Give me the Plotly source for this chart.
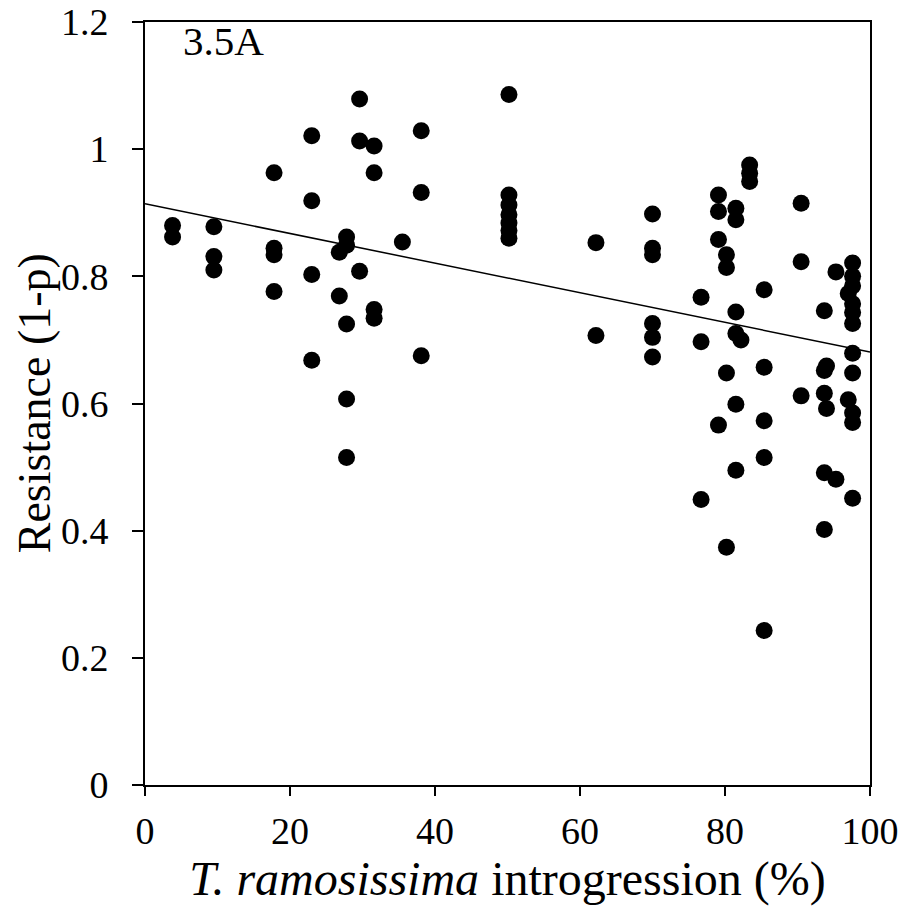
import plotly.graph_objects as go

# T. ramosissima introgression (%) and resistance (1-p)
introgression = [
    3.8, 3.8,
    9.5, 9.5, 9.5,
    17.8, 17.8, 17.8, 17.8,
    23.0, 23.0, 23.0, 23.0,
    26.8, 26.8,
    27.8, 27.8, 27.8, 27.8, 27.8,
    29.6, 29.6, 29.6,
    31.6, 31.6, 31.6, 31.6,
    35.5,
    38.1, 38.1, 38.1,
    50.2, 50.2, 50.2, 50.2, 50.2, 50.2, 50.2,
    62.2, 62.2,
    70.0, 70.0, 70.0, 70.0, 70.0, 70.0,
    76.7, 76.7, 76.7,
    79.1, 79.1, 79.1, 79.1,
    80.2, 80.2, 80.2, 80.2,
    81.5, 81.5, 81.5, 81.5, 81.5, 81.5,
    82.2,
    83.4, 83.4, 83.4,
    85.4, 85.4, 85.4, 85.4, 85.4,
    90.5, 90.5, 90.5,
    93.7, 93.7, 93.7, 93.7, 93.7,
    94.0, 94.0,
    95.3, 95.3,
    97.0, 97.0,
    97.6, 97.6, 97.6, 97.6, 97.6, 97.6, 97.6, 97.6, 97.6, 97.6, 97.6,
]
resistance = [
    0.880, 0.862,
    0.878, 0.831, 0.810,
    0.963, 0.844, 0.834, 0.776,
    1.021, 0.919, 0.803, 0.668,
    0.838, 0.769,
    0.862, 0.849, 0.725, 0.607, 0.515,
    1.079, 1.013, 0.808,
    1.005, 0.963, 0.748, 0.734,
    0.854,
    1.029, 0.932, 0.675,
    1.086, 0.928, 0.912, 0.897, 0.884, 0.872, 0.860,
    0.853, 0.707,
    0.898, 0.844, 0.834, 0.726, 0.704, 0.673,
    0.767, 0.697, 0.449,
    0.928, 0.902, 0.858, 0.566,
    0.834, 0.814, 0.648, 0.374,
    0.907, 0.889, 0.744, 0.710, 0.599, 0.495,
    0.700,
    0.975, 0.962, 0.949,
    0.779, 0.657, 0.573, 0.515, 0.243,
    0.915, 0.823, 0.612,
    0.746, 0.652, 0.616, 0.491, 0.402,
    0.659, 0.592,
    0.807, 0.481,
    0.773, 0.606,
    0.821, 0.800, 0.785, 0.757, 0.743, 0.726, 0.679, 0.648, 0.585, 0.570, 0.451,
]

# Linear trend line
trend_x = [0, 100]
trend_intercept = 0.914
trend_slope = -0.00233
trend_y = [trend_intercept + trend_slope * v for v in trend_x]

x_ticks = [0, 20, 40, 60, 80, 100]
y_ticks = [0, 0.2, 0.4, 0.6, 0.8, 1.0, 1.2]
y_tick_labels = ["0", "0.2", "0.4", "0.6", "0.8", "1", "1.2"]
panel_label = "3.5A"
x_title = "<i>T. ramosissima</i> introgression (%)"
y_title = "Resistance (1-p)"

FONT = "Liberation Serif, Times New Roman, serif"

fig = go.Figure()
fig.add_trace(go.Scatter(
    x=introgression, y=resistance, mode="markers",
    marker=dict(color="black", size=17, line=dict(width=0)),
    showlegend=False, hoverinfo="x+y",
))
fig.add_trace(go.Scatter(
    x=trend_x, y=trend_y, mode="lines",
    line=dict(color="black", width=1.5),
    showlegend=False, hoverinfo="skip",
))

fig.update_layout(
    width=905, height=921,
    margin=dict(l=145, r=35, t=22, b=136),
    paper_bgcolor="white", plot_bgcolor="white",
    font=dict(family=FONT, color="black", size=37),
    xaxis=dict(
        range=[0, 100], tickvals=x_ticks, ticktext=[str(v) for v in x_ticks],
        showgrid=False, zeroline=False, automargin=False,
        showline=True, linecolor="black", linewidth=2, mirror=True,
        ticks="outside", ticklen=9, tickwidth=2, tickcolor="black",
        ticklabelstandoff=2,
        tickfont=dict(family=FONT, size=38, color="black"),
        title=dict(
            text=x_title,
            font=dict(family=FONT, size=48, color="black"), standoff=10,
        ),
    ),
    yaxis=dict(
        range=[0, 1.2], tickvals=y_ticks, ticktext=y_tick_labels,
        showgrid=False, zeroline=False, automargin=False,
        showline=True, linecolor="black", linewidth=2, mirror=True,
        ticks="outside", ticklen=11, tickwidth=2, tickcolor="black",
        ticklabelstandoff=16,
        tickfont=dict(family=FONT, size=38, color="black"),
    ),
    annotations=[
        dict(
            text=panel_label, xref="paper", yref="paper", x=0.05, y=1.008,
            xanchor="left", yanchor="top", showarrow=False,
            font=dict(family=FONT, size=41, color="black"),
        ),
        dict(
            text=y_title, xref="paper", yref="paper", x=-0.152, y=0.5,
            xanchor="center", yanchor="middle", textangle=-90, showarrow=False,
            font=dict(family=FONT, size=46, color="black"),
        ),
    ],
)

fig.write_html("out.html")
